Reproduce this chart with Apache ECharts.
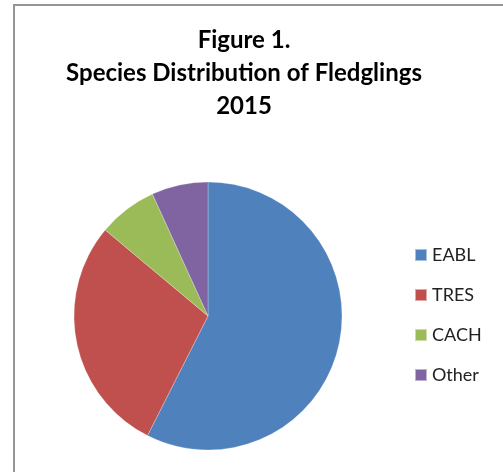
<!DOCTYPE html>
<html>
<head>
<meta charset="utf-8">
<script src="https://cdn.jsdelivr.net/npm/echarts@6/dist/echarts.min.js"></script>
<style>
html,body{margin:0;padding:0;background:#fff;}
#wrap{position:relative;width:503px;height:472px;overflow:hidden;background:#fff;}
#frame{position:absolute;left:13px;top:4px;width:600px;height:600px;border-left:2px solid #959595;border-top:2px solid #959595;box-sizing:border-box;}
#chart{position:absolute;left:0;top:0;width:503px;height:472px;}
</style>
</head>
<body>
<div id="wrap"><div id="frame"></div><div id="chart"></div></div>
<script>
const titleLines = ["Figure 1.", "Species Distribution of Fledglings", "2015"];
const categories = ["EABL", "TRES", "CACH", "Other"];
const values = [57.4, 28.6, 7.1, 6.8];
const colors = ["#4F81BD", "#C0504D", "#9BBB59", "#8064A2"];

const chart = echarts.init(document.getElementById('chart'), null, {renderer: 'canvas'});
chart.setOption({
  animation: false,
  color: colors,
  title: {
    text: titleLines.join('\n'),
    left: 244,
    textAlign: 'center',
    top: 24,
    padding: 0,
    textStyle: {
      fontFamily: 'Lato',
      fontWeight: 'bold',
      fontSize: 24,
      lineHeight: 33,
      color: '#000'
    }
  },
  legend: {
    orient: 'vertical',
    left: 414,
    top: 246,
    padding: 0,
    itemWidth: 12,
    itemHeight: 12,
    itemGap: 22,
    icon: 'rect',
    data: categories,
    textStyle: {
      fontFamily: 'Lato',
      fontSize: 18,
      lineHeight: 18,
      color: '#222'
    }
  },
  series: [{
    type: 'pie',
    center: [208, 316],
    radius: 134,
    startAngle: 90,
    clockwise: true,
    label: {show: false},
    labelLine: {show: false},
    emphasis: {disabled: true},
    itemStyle: {borderColor: 'rgba(255,255,255,0.5)', borderWidth: 0.5},
    data: categories.map((c, i) => ({name: c, value: values[i]}))
  }]
});
</script>
</body>
</html>
